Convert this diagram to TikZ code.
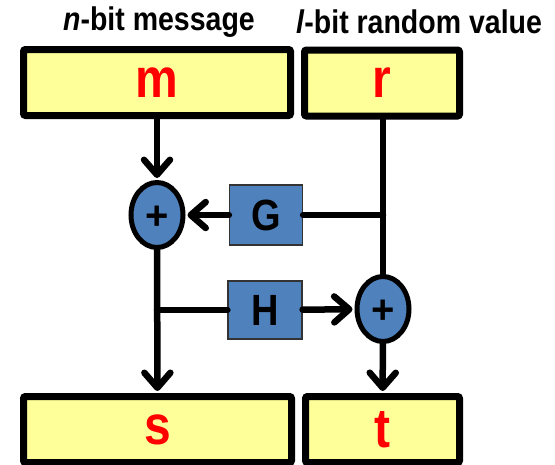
\documentclass[tikz,border=0pt]{standalone}
\usepackage{graphicx}
\usepackage{fontspec}
\setmainfont{Liberation Sans}
\usetikzlibrary{arrows.meta,shapes.geometric}

\definecolor{valyellow}{HTML}{FFFF99}
\definecolor{fnblue}{HTML}{4F81BD}
\newcommand{\tallfont}[1]{\scalebox{1}[1.15]{#1}}

\tikzset{
  valbox/.style={draw=black, fill=valyellow, line width=7pt, rounded corners=2pt,
    minimum height=66pt, inner sep=0pt, text=red,
    font=\bfseries\fontsize{48}{48}\selectfont},
  xorop/.style={ellipse, draw=black, fill=fnblue, line width=5pt,
    minimum width=52pt, minimum height=65pt, inner sep=0pt},
  fnbox/.style={draw=black!80, fill=fnblue, line width=1.2pt, inner sep=0pt,
    font=\bfseries\fontsize{38}{38}\selectfont},
  caption/.style={font=\bfseries\fontsize{28.5}{28.5}\selectfont},
  wire/.style={line width=6.5pt, line cap=round},
  arr/.style={wire, -{Straight Barb[round,length=15pt,width=26pt]}, shorten >=2pt}
}

\begin{document}
\begin{tikzpicture}[x=1pt,y=-1pt]
    \useasboundingbox (0,0) rectangle (555,464);

    % captions
    \node[caption] (capm) at (159,22) {\tallfont{\textit{n}-bit message}};
    \node[caption] (capr) at (419,22) {\tallfont{\textit{l}-bit random value}};

    % input and output values
    \node[valbox, minimum width=267pt] (m) at (157,82.5) {\tallfont{m}};
    \node[valbox, minimum width=155pt] (r) at (382,83) {\tallfont{r}};
    \node[valbox, minimum width=268pt] (s) at (157.5,429.5) {\tallfont{s}};
    \node[valbox, minimum width=154pt] (t) at (382.5,429.5) {\tallfont{t}};

    % xor and round functions
    \node[xorop] (xa) at (157,215) {};
    \node[xorop] (xb) at (383,309) {};
    \node (pa) at ([yshift=-3pt]xa.center) {\bfseries\fontsize{40}{40}\selectfont +};
    \node (pb) at ([yshift=-3pt]xb.center) {\bfseries\fontsize{40}{40}\selectfont +};
    \node[fnbox, minimum width=73pt, minimum height=60pt] (G) at (266,215) {\tallfont{G}};
    \node[fnbox, minimum width=74pt, minimum height=58pt] (H) at (265,310) {\tallfont{H}};

    % wires
    \draw[arr] (m) -- (xa);
    \draw[arr] (xa) -- (s);
    \draw[wire] (r.south -| xb) -- (xb);
    \draw[arr] (xb) -- (t);
    \draw[wire] (G.east -| xb) -- (G);
    \draw[arr] (G) -- (xa);
    \draw[wire] (H.west -| xa) -- (H);
    \draw[arr] (H) -- (xb);

\end{tikzpicture}
\end{document}
